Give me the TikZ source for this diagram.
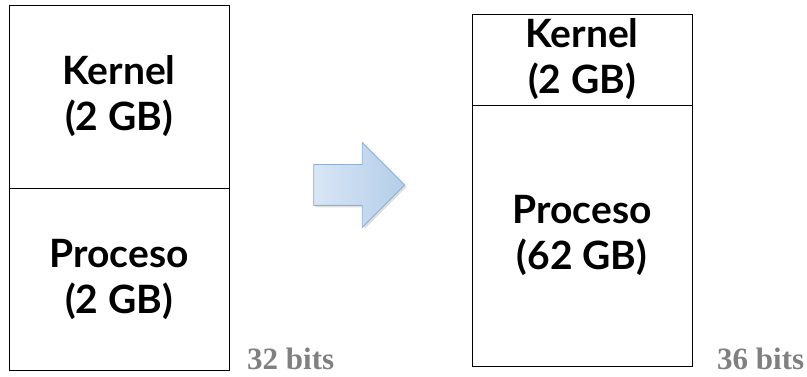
\documentclass[tikz,border=0pt]{standalone}
\usepackage{fontspec}
\usepackage{xcolor}
\usepackage{tikz}
\usetikzlibrary{shapes.arrows, shadows, positioning}
\newfontfamily\labelfont{Lato}
\newfontfamily\bitsfont{Liberation Serif}
\definecolor{arrowlight}{HTML}{D8E6F5}
\definecolor{arrowdark}{HTML}{B4CDE9}
\definecolor{arrowedge}{HTML}{8FB0D6}
\definecolor{bitsgray}{HTML}{808080}
\tikzstyle{memblock} = [
  rectangle, draw=black, line width=0.8pt, minimum width=220pt,
  align=center, inner sep=0pt,
  font=\labelfont\bfseries\fontsize{39}{46}\selectfont
]
\tikzstyle{bitslabel} = [
  anchor=base west, inner sep=0pt, text=bitsgray,
  font=\bitsfont\bfseries\fontsize{31}{34}\selectfont
]
\tikzstyle{bigarrow} = [
  single arrow, draw=arrowedge, line width=0.8pt,
  left color=arrowlight, right color=arrowdark,
  minimum height=91pt, inner xsep=0pt, inner ysep=20pt,
  single arrow head extend=22pt,
  drop shadow={opacity=0.25, shadow xshift=2pt, shadow yshift=-2pt}
]

\begin{document}
\begin{tikzpicture}[x=1pt, y=1pt]
  \useasboundingbox (0, 0) rectangle (807, 377);

  % 32-bit layout
  \node[memblock, minimum height=183pt] (kernL) at (119, 280.5) {Kernel\\(2 GB)};
  \node[memblock, minimum height=182pt] (procL) at (119, 98) {Proceso\\(2 GB)};
  \node[bitslabel] (bitsL) at (247, 7) {32 bits};

  % transition
  \node[bigarrow] (shift) at (349, 192) {};

  % 36-bit layout
  \node[memblock, minimum height=91pt] (kernR) at (582, 317.5) {Kernel\\(2 GB)};
  \node[memblock, minimum height=261pt] (procR) at (582, 141.5) {Proceso\\(62 GB)};
  \node[bitslabel] (bitsR) at (717, 7) {36 bits};

\end{tikzpicture}
\end{document}
